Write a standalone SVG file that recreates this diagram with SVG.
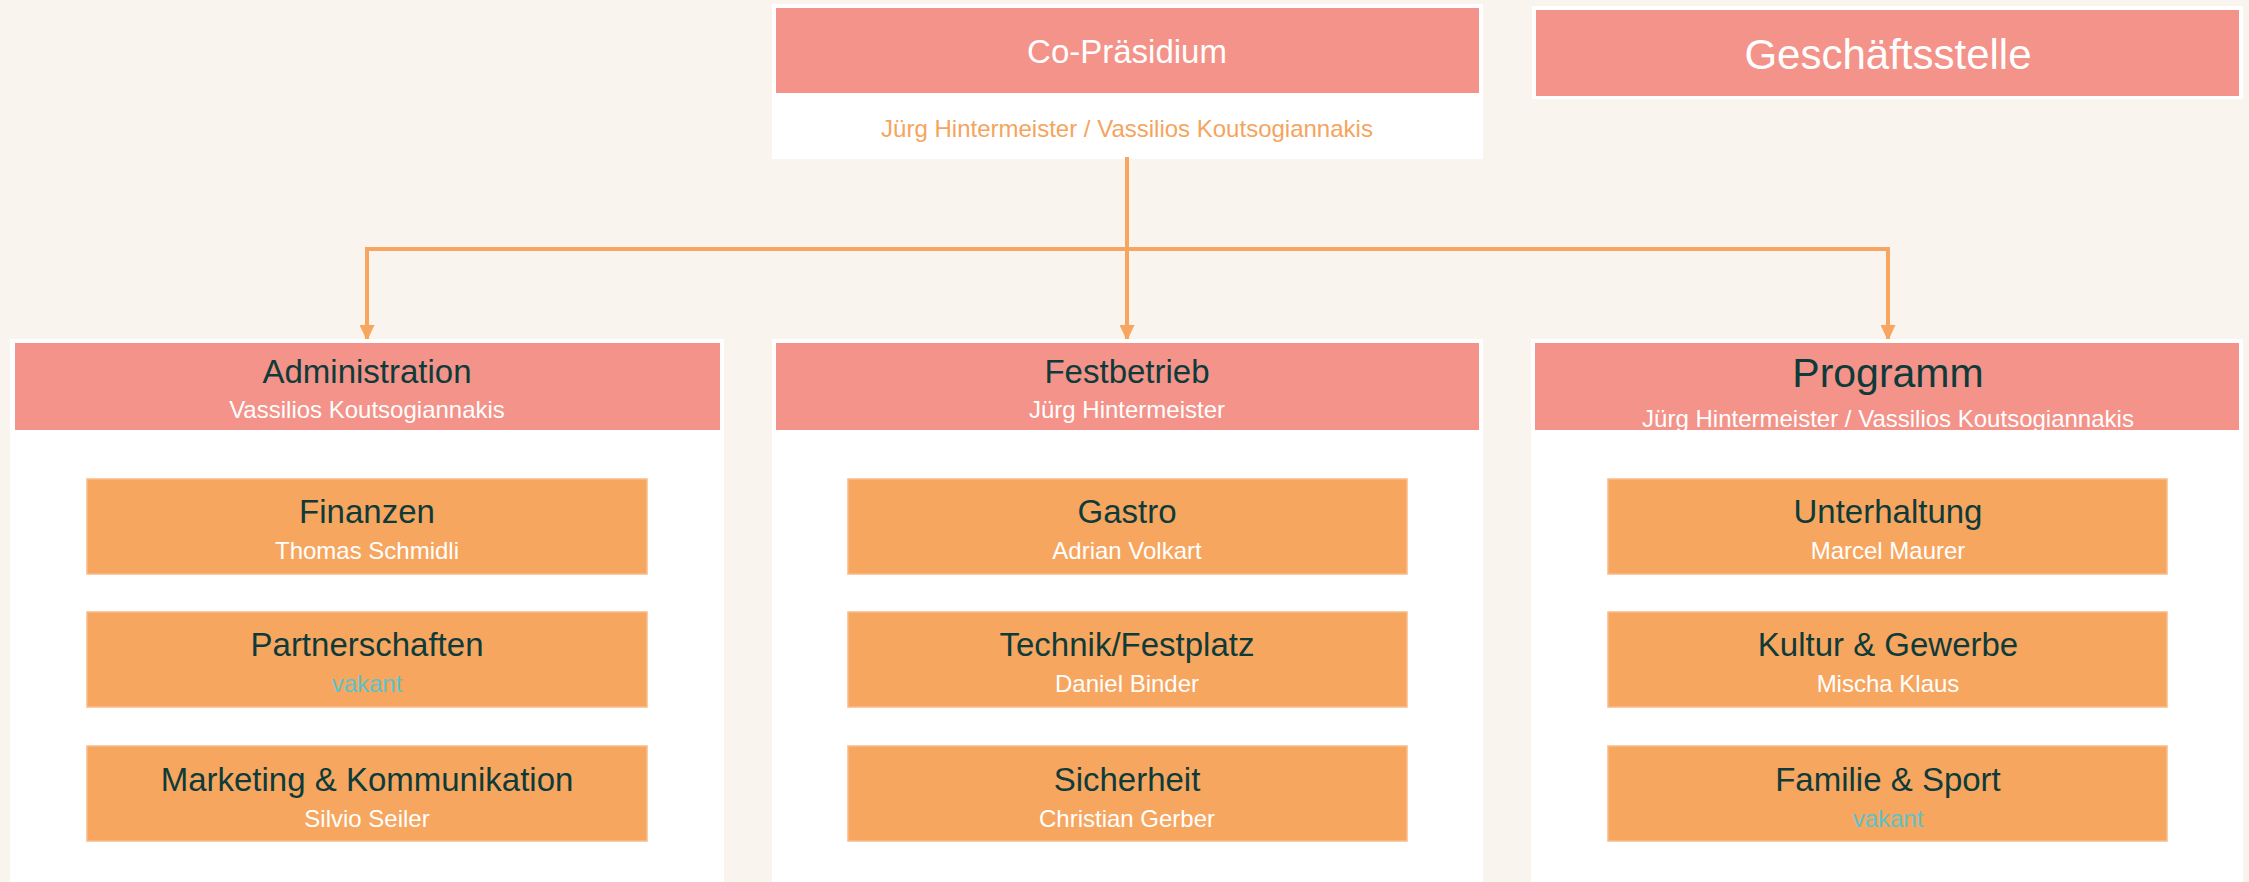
<svg xmlns="http://www.w3.org/2000/svg" width="2249" height="882" viewBox="0 0 2249 882">
<defs>
<style>
text{font-family:"Liberation Sans",Arial,sans-serif;text-anchor:middle}
.frame{fill:#ffffff}
.head{fill:#f4938a}
.child{fill:#f7a65f;stroke:#f9bb86;stroke-width:1.5}
.t{fill:#0e3b39;font-size:33px}
.ts{fill:#ffffff;font-size:24px}
.tw{fill:#ffffff;font-size:33px}
.vak{fill:#5cc3c9;font-size:24px}
.conn{fill:none;stroke:#f7a65f;stroke-width:4}
</style>
<marker id="arr" viewBox="0 0 16 15" refX="16" refY="7.5" markerWidth="16" markerHeight="15" markerUnits="userSpaceOnUse" orient="auto">
<path d="M0,0 L16,7.5 L0,15 z" fill="#f7a65f"/>
</marker>
</defs>
<rect width="2249" height="882" fill="#f9f4ee"/>

<g id="co-praesidium">
<rect class="frame" x="772" y="4" width="711" height="155"/>
<rect class="head" x="776" y="8" width="703" height="85"/>
<text class="tw" x="1127" y="63">Co-Präsidium</text>
<text x="1127" y="137" style="fill:#f5a45e;font-size:24px">Jürg Hintermeister / Vassilios Koutsogiannakis</text>
</g>

<g id="geschaeftsstelle">
<rect class="frame" x="1532" y="6" width="711" height="93"/>
<rect class="head" x="1536" y="10" width="703" height="86"/>
<text x="1888" y="69" style="fill:#ffffff;font-size:42px">Geschäftsstelle</text>
</g>

<g id="connectors">
<path class="conn" d="M1127 157 V341" marker-end="url(#arr)"/>
<path class="conn" d="M367 249 H1888"/>
<path class="conn" d="M367 247 V341" marker-end="url(#arr)"/>
<path class="conn" d="M1888 247 V341" marker-end="url(#arr)"/>
</g>

<g id="administration">
<rect class="frame" x="10" y="339" width="714" height="560"/>
<rect class="head" x="15" y="343" width="705" height="87"/>
<text class="t" x="367" y="383">Administration</text>
<text class="ts" x="367" y="418">Vassilios Koutsogiannakis</text>
</g>
<g id="finanzen">
<rect class="child" x="87" y="479" width="560" height="95"/>
<text class="t" x="367" y="523">Finanzen</text>
<text class="ts" x="367" y="559">Thomas Schmidli</text>
</g>
<g id="partnerschaften">
<rect class="child" x="87" y="612" width="560" height="95"/>
<text class="t" x="367" y="656">Partnerschaften</text>
<text class="vak" x="367" y="692">vakant</text>
</g>
<g id="marketing">
<rect class="child" x="87" y="746" width="560" height="95"/>
<text class="t" x="367" y="791">Marketing &amp; Kommunikation</text>
<text class="ts" x="367" y="827">Silvio Seiler</text>
</g>

<g id="festbetrieb">
<rect class="frame" x="772" y="339" width="711" height="560"/>
<rect class="head" x="776" y="343" width="703" height="87"/>
<text class="t" x="1127" y="383">Festbetrieb</text>
<text class="ts" x="1127" y="418">Jürg Hintermeister</text>
</g>
<g id="gastro">
<rect class="child" x="848" y="479" width="559" height="95"/>
<text class="t" x="1127" y="523">Gastro</text>
<text class="ts" x="1127" y="559">Adrian Volkart</text>
</g>
<g id="technik">
<rect class="child" x="848" y="612" width="559" height="95"/>
<text class="t" x="1127" y="656">Technik/Festplatz</text>
<text class="ts" x="1127" y="692">Daniel Binder</text>
</g>
<g id="sicherheit">
<rect class="child" x="848" y="746" width="559" height="95"/>
<text class="t" x="1127" y="791">Sicherheit</text>
<text class="ts" x="1127" y="827">Christian Gerber</text>
</g>

<g id="programm">
<rect class="frame" x="1531" y="339" width="712" height="560"/>
<rect class="head" x="1535" y="343" width="704" height="87"/>
<text x="1888" y="387" style="fill:#0e3b39;font-size:41px">Programm</text>
<text class="ts" x="1888" y="427">Jürg Hintermeister / Vassilios Koutsogiannakis</text>
</g>
<g id="unterhaltung">
<rect class="child" x="1608" y="479" width="559" height="95"/>
<text class="t" x="1888" y="523">Unterhaltung</text>
<text class="ts" x="1888" y="559">Marcel Maurer</text>
</g>
<g id="kultur">
<rect class="child" x="1608" y="612" width="559" height="95"/>
<text class="t" x="1888" y="656">Kultur &amp; Gewerbe</text>
<text class="ts" x="1888" y="692">Mischa Klaus</text>
</g>
<g id="familie">
<rect class="child" x="1608" y="746" width="559" height="95"/>
<text class="t" x="1888" y="791">Familie &amp; Sport</text>
<text class="vak" x="1888" y="827">vakant</text>
</g>
</svg>
